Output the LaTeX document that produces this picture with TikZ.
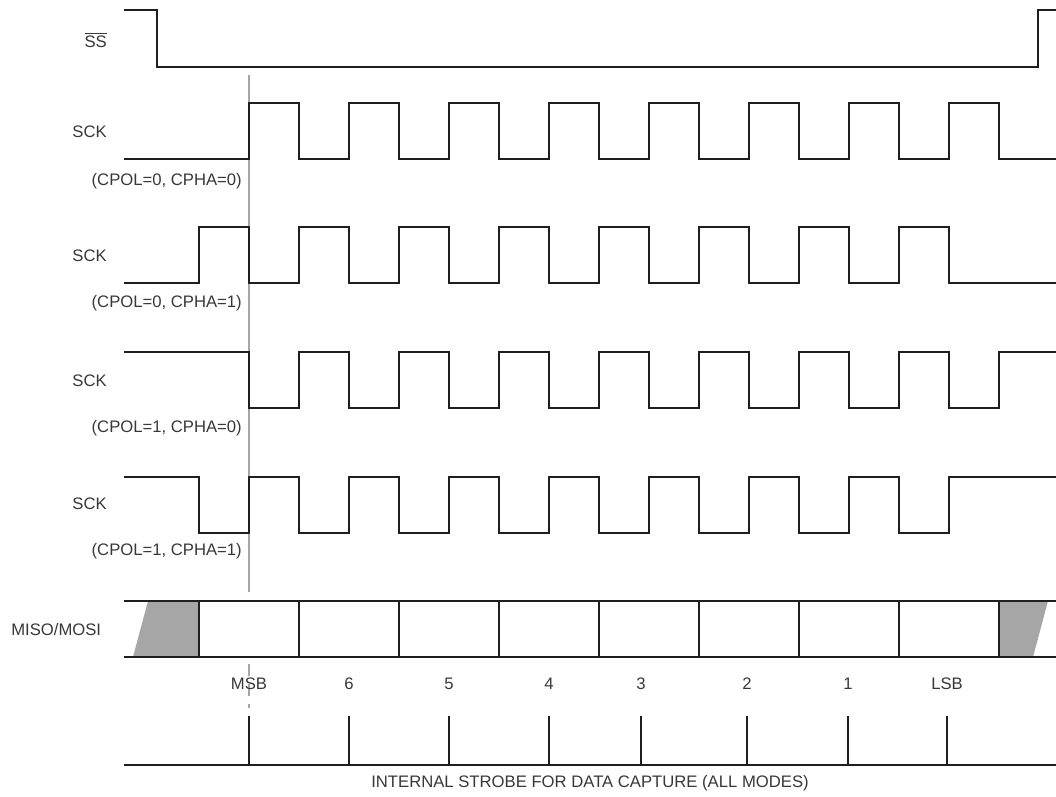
\documentclass[tikz,border=0pt]{standalone}
\usepackage{fontspec}
\setmainfont{Liberation Sans}
\usetikzlibrary{calc}

\begin{document}
\begin{tikzpicture}[x=0.75pt,y=-0.75pt,
  sig/.style={line width=1.3pt,draw=black!88,line join=miter},
  guide/.style={line width=0.8pt,draw=black!35},
  lbl/.style={inner sep=0pt,text=black!78,font=\fontsize{12.5}{15}\selectfont}]
  \useasboundingbox (0,0) rectangle (1056,796);
  % guide through the first sampling edge
  \draw[guide] (249,75) -- (249,592);
  \draw[guide,dash pattern=on 9pt off 6pt] (249,664) -- (249,708);
  % slave select
  \draw[sig] (124,10) -- (157,10) -- (157,67) -- (1038,67) -- (1038,10) -- (1056,10);
  \node[lbl,anchor=east] (ss) at (107,40) {$\overline{\mbox{SS}}$};
  % clock, CPOL=0 CPHA=0
  \draw[sig] (124,159) foreach \k in {0,...,7} {
    -- ({249+100*\k},159) -- ({249+100*\k},103) -- ({299+100*\k},103) -- ({299+100*\k},159)} -- (1056,159);
  \node[lbl,anchor=east] (sck0) at (107,132) {SCK};
  \node[lbl,anchor=east] (mode0) at (242,181) {(CPOL=0, CPHA=0)};
  % clock, CPOL=0 CPHA=1
  \draw[sig] (124,283) foreach \k in {0,...,7} {
    -- ({199+100*\k},283) -- ({199+100*\k},227) -- ({249+100*\k},227) -- ({249+100*\k},283)} -- (1056,283);
  \node[lbl,anchor=east] (sck1) at (107,256) {SCK};
  \node[lbl,anchor=east] (mode1) at (242,303) {(CPOL=0, CPHA=1)};
  % clock, CPOL=1 CPHA=0
  \draw[sig] (124,352) foreach \k in {0,...,7} {
    -- ({249+100*\k},352) -- ({249+100*\k},408) -- ({299+100*\k},408) -- ({299+100*\k},352)} -- (1056,352);
  \node[lbl,anchor=east] (sck2) at (107,381) {SCK};
  \node[lbl,anchor=east] (mode2) at (242,428) {(CPOL=1, CPHA=0)};
  % clock, CPOL=1 CPHA=1
  \draw[sig] (124,477) foreach \k in {0,...,7} {
    -- ({199+100*\k},477) -- ({199+100*\k},533) -- ({249+100*\k},533) -- ({249+100*\k},477)} -- (1056,477);
  \node[lbl,anchor=east] (sck3) at (107,504) {SCK};
  \node[lbl,anchor=east] (mode3) at (242,551) {(CPOL=1, CPHA=1)};
  % data lines
  \fill[black!35] (148,601) -- (199,601) -- (199,657) -- (133,657) -- cycle;
  \fill[black!35] (999,601) -- (1048,601) -- (1033,657) -- (999,657) -- cycle;
  \draw[sig] (124,601) -- (1056,601);
  \draw[sig] (124,657) -- (1056,657);
  \foreach \x in {199,299,...,999} \draw[sig] (\x,601) -- (\x,657);
  \node[lbl,anchor=west] (data) at (11,630) {MISO/MOSI};
  % strobe
  \draw[sig] (124,765) -- (1056,765);
  \foreach \x/\b in {249/MSB,349/6,449/5,549/4,641/3,747/2,848/1,947/LSB} {
    \draw[sig] (\x,716) -- (\x,765);
    \node[lbl] (bit\b) at (\x,684) {\b};
  }
  \node[lbl] (strobe) at (590,783) {INTERNAL STROBE FOR DATA CAPTURE (ALL MODES)};
\end{tikzpicture}
\end{document}
